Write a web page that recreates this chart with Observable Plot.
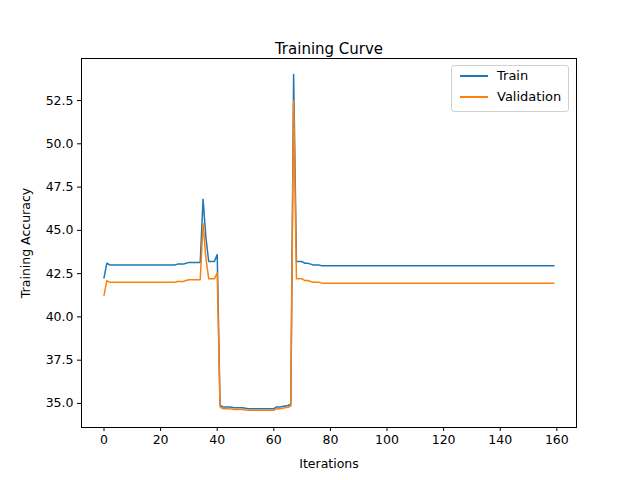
<!DOCTYPE html>
<html><head><meta charset="utf-8">
<script src="https://cdn.jsdelivr.net/npm/d3@7"></script>
<script src="https://cdn.jsdelivr.net/npm/@observablehq/plot@0.6"></script>
<style>
body{margin:0;font-family:"DejaVu Sans",sans-serif;}
#wrap{position:relative;width:640px;height:480px;}
#legend{position:absolute;left:451px;top:65px;width:116px;height:45px;border:1px solid #d0d0d0;border-radius:3px;background:#fff;font-size:13px;}
.item{position:absolute;left:8px;display:flex;align-items:center;}
.sw{width:28px;height:2px;margin-right:9px;}
</style></head><body>
<div id="wrap"><div id="chart"></div>
<div id="legend">
<div class="item" style="top:2px"><span class="sw" style="background:#1f77b4"></span>Train</div>
<div class="item" style="top:23px"><span class="sw" style="background:#ff7f0e"></span>Validation</div>
</div></div>
<script>
const train = [
42.25,43.1,43.0,43.0,43.0,43.0,43.0,43.0,43.0,43.0,
43.0,43.0,43.0,43.0,43.0,43.0,43.0,43.0,43.0,43.0,
43.0,43.0,43.0,43.0,43.0,43.0,43.05,43.05,43.05,43.1,
43.15,43.15,43.15,43.15,43.15,46.8,44.6,43.2,43.2,43.2,
43.6,34.9,34.8,34.8,34.8,34.78,34.75,34.75,34.75,34.75,
34.72,34.7,34.7,34.7,34.7,34.7,34.7,34.7,34.7,34.7,
34.7,34.8,34.8,34.82,34.85,34.88,34.95,54.0,43.2,43.2,
43.2,43.1,43.1,43.05,43.0,43.0,43.0,42.95,42.95,42.95,
42.95,42.95,42.95,42.95,42.95,42.95,42.95,42.95,42.95,42.95,
42.95,42.95,42.95,42.95,42.95,42.95,42.95,42.95,42.95,42.95,
42.95,42.95,42.95,42.95,42.95,42.95,42.95,42.95,42.95,42.95,
42.95,42.95,42.95,42.95,42.95,42.95,42.95,42.95,42.95,42.95,
42.95,42.95,42.95,42.95,42.95,42.95,42.95,42.95,42.95,42.95,
42.95,42.95,42.95,42.95,42.95,42.95,42.95,42.95,42.95,42.95,
42.95,42.95,42.95,42.95,42.95,42.95,42.95,42.95,42.95,42.95,
42.95,42.95,42.95,42.95,42.95,42.95,42.95,42.95,42.95,42.95
];
const validation = [
41.25,42.1,42.0,42.0,42.0,42.0,42.0,42.0,42.0,42.0,
42.0,42.0,42.0,42.0,42.0,42.0,42.0,42.0,42.0,42.0,
42.0,42.0,42.0,42.0,42.0,42.0,42.05,42.05,42.05,42.1,
42.15,42.15,42.15,42.15,42.15,45.4,43.4,42.2,42.2,42.2,
42.55,34.8,34.7,34.7,34.7,34.68,34.65,34.65,34.65,34.65,
34.62,34.6,34.6,34.6,34.6,34.6,34.6,34.6,34.6,34.6,
34.6,34.7,34.7,34.72,34.75,34.78,34.85,52.5,42.2,42.2,
42.2,42.1,42.1,42.05,42.0,42.0,42.0,41.95,41.95,41.95,
41.95,41.95,41.95,41.95,41.95,41.95,41.95,41.95,41.95,41.95,
41.95,41.95,41.95,41.95,41.95,41.95,41.95,41.95,41.95,41.95,
41.95,41.95,41.95,41.95,41.95,41.95,41.95,41.95,41.95,41.95,
41.95,41.95,41.95,41.95,41.95,41.95,41.95,41.95,41.95,41.95,
41.95,41.95,41.95,41.95,41.95,41.95,41.95,41.95,41.95,41.95,
41.95,41.95,41.95,41.95,41.95,41.95,41.95,41.95,41.95,41.95,
41.95,41.95,41.95,41.95,41.95,41.95,41.95,41.95,41.95,41.95,
41.95,41.95,41.95,41.95,41.95,41.95,41.95,41.95,41.95,41.95
];
const xTicks = [0,20,40,60,80,100,120,140,160];
const yTicks = [35,37.5,40,42.5,45,47.5,50,52.5];

const rows = train.map((v, i) => ({i, train: v, validation: validation[i]}));

document.getElementById("chart").append(Plot.plot({
  width: 640, height: 480,
  marginLeft: 81, marginRight: 64, marginTop: 58, marginBottom: 53,
  style: {fontFamily: "DejaVu Sans, sans-serif", fontSize: "12.5px", color: "#000", background: "#fff"},
  x: {domain: [-7.95, 166.95], ticks: xTicks, tickSize: 4, tickPadding: 4, label: "Iterations", labelAnchor: "center", labelArrow: "none", labelOffset: 40},
  y: {domain: [33.61, 54.93], ticks: yTicks, tickSize: 4, tickPadding: 4, tickFormat: d3.format(".1f"), label: "Training Accuracy", labelAnchor: "center", labelArrow: "none", labelOffset: 60},
  marks: [
    Plot.line(rows, {x: "i", y: "train", stroke: "#1f77b4", strokeWidth: 1.5}),
    Plot.line(rows, {x: "i", y: "validation", stroke: "#ff7f0e", strokeWidth: 1.5}),
    Plot.frame({stroke: "#000"}),
    Plot.text(["Training Curve"], {frameAnchor: "top", dy: -15, fontSize: 15})
  ]
}));
</script></body></html>
